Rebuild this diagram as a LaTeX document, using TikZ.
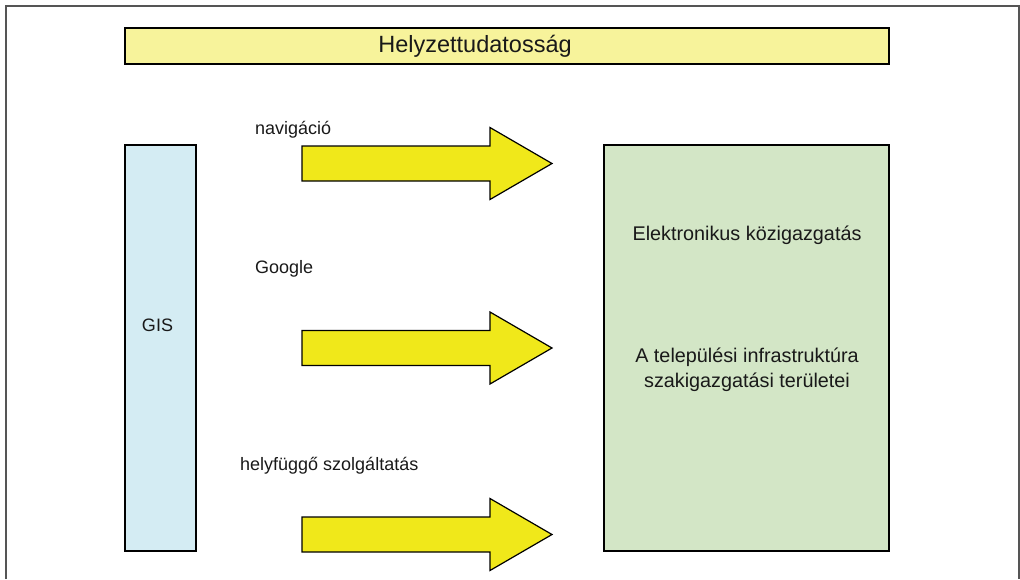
\documentclass[tikz,border=0pt]{standalone}
\usepackage{fontspec}
\setmainfont{Liberation Sans}
\definecolor{titlefill}{RGB}{247,243,155}
\definecolor{arrowfill}{RGB}{240,232,26}
\definecolor{gisfill}{RGB}{212,236,243}
\definecolor{areafill}{RGB}{211,230,198}
\definecolor{framegray}{RGB}{85,85,85}
\tikzset{
  panel/.style={draw=black,line width=1.5pt,inner sep=0pt},
  lbl/.style={font=\fontsize{18}{25}\selectfont,text=black!90,inner sep=0pt},
  arealbl/.style={lbl,font=\fontsize{19.8}{25}\selectfont},
  bigarrow/.style={draw=black,line width=1.2pt,fill=arrowfill,line join=miter}
}
\begin{document}
\begin{tikzpicture}[x=1pt,y=-1pt]
  \useasboundingbox (0,0) rectangle (1020,579);
  % outer frame, open at the bottom
  \draw [framegray,line width=2pt] (6,579) -- (6,6) -- (1019,6) -- (1019,579);
  % boxes
  \node [panel,fill=titlefill,minimum width=764pt,minimum height=36pt] (title) at (507,46) {};
  \node [lbl,font=\fontsize{23.5}{28}\selectfont] (titletext) at (475,46) {Helyzettudatosság};
  \node [panel,fill=gisfill,minimum width=71pt,minimum height=406pt] (gis) at (160.5,348) {};
  \node [lbl] (gistext) at (157.5,325) {GIS};
  \node [panel,fill=areafill,line width=2pt,minimum width=285pt,minimum height=406pt] (area) at (746.5,348) {};
  \node [arealbl] (egov) at (747,235) {Elektronikus közigazgatás};
  \node [arealbl,align=center] (infra) at (747,370) {A települési infrastruktúra\\szakigazgatási területei};
  % yellow arrows
  \foreach \yc in {163.5,348,534.5}
    \filldraw [bigarrow] (302,\yc-17.5) -- (490,\yc-17.5) -- (490,\yc-36) -- (552,\yc)
      -- (490,\yc+36) -- (490,\yc+17.5) -- (302,\yc+17.5) -- cycle;
  % arrow labels
  \node [lbl,anchor=west] (nav) at (255,130) {navigáció};
  \node [lbl,anchor=west] (google) at (255,269) {Google};
  \node [lbl,anchor=west] (loc) at (240,466) {helyfüggő szolgáltatás};
\end{tikzpicture}
\end{document}
